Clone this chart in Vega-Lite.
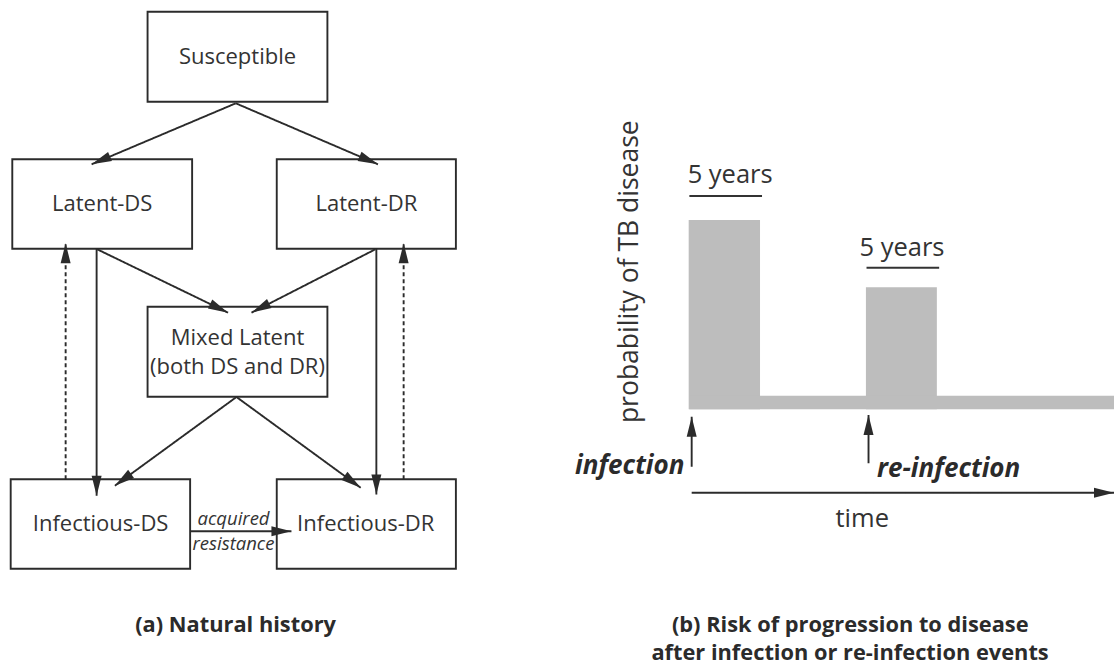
{
  "$schema": "https://vega.github.io/schema/vega-lite/v6.json",
  "width": 1115,
  "height": 667,
  "autosize": {"type": "fit", "contains": "padding"},
  "padding": 0,
  "background": "white",
  "config": {"view": {"stroke": null}},
  "datasets": {
    "boxes": [
      {"state": "Susceptible", "left": 147.7, "right": 327.7, "top": 11.7, "bottom": 101.7},
      {"state": "Latent-DS", "left": 12.3, "right": 192.3, "top": 159.3, "bottom": 248.7},
      {"state": "Latent-DR", "left": 277, "right": 456.3, "top": 159.3, "bottom": 248.7},
      {"state": "Mixed Latent", "left": 147.7, "right": 327.7, "top": 306.7, "bottom": 396.7},
      {"state": "Infectious-DS", "left": 10.7, "right": 190.3, "top": 479.3, "bottom": 568.7},
      {"state": "Infectious-DR", "left": 277, "right": 456.3, "top": 479.3, "bottom": 568.7}
    ],
    "risk": [
      {"period": "after infection", "left": 689.3, "right": 760.7, "top": 220, "bottom": 409.3},
      {"period": "after re-infection", "left": 866.7, "right": 937.7, "top": 287.3, "bottom": 409.3},
      {"period": "baseline", "left": 690, "right": 1115, "top": 395.7, "bottom": 409.3}
    ],
    "edges": [
      {"from": "Susceptible", "to": "Latent-DS", "kind": "progression", "x1": 236, "y1": 103.3, "x2": 91.7, "y2": 164.3, "hx": 100.9, "hy": 160.4, "dir": 247.1},
      {"from": "Susceptible", "to": "Latent-DR", "kind": "progression", "x1": 236, "y1": 103.3, "x2": 378.3, "y2": 164.3, "hx": 369.1, "hy": 160.4, "dir": 113.2},
      {"from": "Latent-DS", "to": "Mixed Latent", "kind": "progression", "x1": 97.3, "y1": 249.3, "x2": 228.3, "y2": 312.7, "hx": 219.3, "hy": 308.3, "dir": 115.8},
      {"from": "Latent-DR", "to": "Mixed Latent", "kind": "progression", "x1": 375.7, "y1": 249.3, "x2": 251.7, "y2": 312.7, "hx": 260.6, "hy": 308.1, "dir": 242.9},
      {"from": "Latent-DS", "to": "Infectious-DS", "kind": "progression", "x1": 96.7, "y1": 248.7, "x2": 96.7, "y2": 495.7, "hx": 96.7, "hy": 485.7, "dir": 180},
      {"from": "Latent-DR", "to": "Infectious-DR", "kind": "progression", "x1": 376.7, "y1": 248.7, "x2": 376.7, "y2": 494.5, "hx": 376.7, "hy": 484.5, "dir": 180},
      {"from": "Infectious-DS", "to": "Latent-DS", "kind": "reversion", "x1": 65.7, "y1": 479.3, "x2": 65.7, "y2": 243.3, "hx": 65.7, "hy": 253.3, "dir": 0},
      {"from": "Infectious-DR", "to": "Latent-DR", "kind": "reversion", "x1": 404, "y1": 479.3, "x2": 404, "y2": 243.3, "hx": 404, "hy": 253.3, "dir": 0},
      {"from": "Mixed Latent", "to": "Infectious-DS", "kind": "progression", "x1": 236.7, "y1": 397, "x2": 115, "y2": 485.7, "hx": 123.1, "hy": 479.8, "dir": 233.9},
      {"from": "Mixed Latent", "to": "Infectious-DR", "kind": "progression", "x1": 236.7, "y1": 397, "x2": 361, "y2": 487.7, "hx": 352.9, "hy": 481.8, "dir": 126.1},
      {"from": "Infectious-DS", "to": "Infectious-DR", "kind": "progression", "x1": 190.3, "y1": 531.3, "x2": 291.7, "y2": 531.3, "hx": 281.7, "hy": 531.3, "dir": 90},
      {"from": "infection", "to": "risk", "kind": "progression", "x1": 692.3, "y1": 466.7, "x2": 692.3, "y2": 416.7, "hx": 692.3, "hy": 426.7, "dir": 0},
      {"from": "re-infection", "to": "risk", "kind": "progression", "x1": 869.3, "y1": 463.3, "x2": 869.3, "y2": 415, "hx": 869.3, "hy": 425, "dir": 0},
      {"from": "time start", "to": "time end", "kind": "progression", "x1": 692.3, "y1": 492.7, "x2": 1115, "y2": 492.7, "hx": 1105, "hy": 492.7, "dir": 90}
    ],
    "spans": [
      {"label": "5 years", "x1": 690, "x2": 762.7, "y": 196},
      {"label": "5 years", "x1": 867.3, "x2": 940, "y": 267.7}
    ],
    "boxLabels": [
      {"text": "Susceptible", "x": 237.7, "y": 63.5},
      {"text": "Latent-DS", "x": 102.3, "y": 210.5},
      {"text": "Latent-DR", "x": 366.7, "y": 210.5},
      {"text": "Mixed Latent", "x": 237.7, "y": 345},
      {"text": "(both DS and DR)", "x": 237.7, "y": 374.3},
      {"text": "Infectious-DS", "x": 100.7, "y": 530.7},
      {"text": "Infectious-DR", "x": 366, "y": 530.7}
    ],
    "italicLabels": [
      {"text": "acquired", "x": 233.7, "y": 525},
      {"text": "resistance", "x": 233.7, "y": 549.5}
    ],
    "titles": [
      {"text": "(a) Natural history", "x": 235.8, "y": 631.7},
      {"text": "(b) Risk of progression to disease", "x": 851, "y": 631.7},
      {"text": "after infection or re-infection events", "x": 850.8, "y": 660}
    ],
    "plainB": [
      {"text": "5 years", "x": 730.8, "y": 183.3},
      {"text": "5 years", "x": 902.8, "y": 256},
      {"text": "time", "x": 863, "y": 527.3}
    ],
    "events": [
      {"text": "infection", "x": 630.3, "y": 474.3},
      {"text": "re-infection", "x": 949.5, "y": 477}
    ],
    "axisLabel": [
      {"text": "probability of TB disease", "x": 638.3, "y": 271.7}
    ]
  },
  "layer": [
    {
      "data": {"name": "boxes"},
      "mark": {"type": "rect", "fill": "white", "stroke": "#2b2b2b", "strokeWidth": 1.9},
      "encoding": {
        "x": {"field": "left", "type": "quantitative", "scale": {"domain": [0, 1115], "nice": false, "zero": false}, "axis": null},
        "x2": {"field": "right"},
        "y": {"field": "top", "type": "quantitative", "scale": {"domain": [0, 667], "nice": false, "zero": false, "reverse": true}, "axis": null},
        "y2": {"field": "bottom"}
      }
    },
    {
      "data": {"name": "risk"},
      "mark": {"type": "rect", "fill": "#bdbdbd", "strokeWidth": 0},
      "encoding": {
        "x": {"field": "left", "type": "quantitative", "scale": {"domain": [0, 1115], "nice": false, "zero": false}, "axis": null},
        "x2": {"field": "right"},
        "y": {"field": "top", "type": "quantitative", "scale": {"domain": [0, 667], "nice": false, "zero": false, "reverse": true}, "axis": null},
        "y2": {"field": "bottom"}
      }
    },
    {
      "data": {"name": "edges"},
      "mark": {"type": "rule", "color": "#2b2b2b", "strokeWidth": 1.9},
      "encoding": {
        "x": {"field": "x1", "type": "quantitative", "scale": {"domain": [0, 1115], "nice": false, "zero": false}, "axis": null},
        "x2": {"field": "x2"},
        "y": {"field": "y1", "type": "quantitative", "scale": {"domain": [0, 667], "nice": false, "zero": false, "reverse": true}, "axis": null},
        "y2": {"field": "y2"},
        "strokeDash": {"field": "kind", "type": "nominal", "scale": {"domain": ["progression", "reversion"], "range": [[1, 0], [4, 3]]}, "legend": null}
      }
    },
    {
      "data": {"name": "edges"},
      "mark": {"type": "point", "shape": "M0,-1L0.5,1L-0.5,1Z", "filled": true, "size": 400, "color": "#2b2b2b", "opacity": 1, "strokeWidth": 0},
      "encoding": {
        "x": {"field": "hx", "type": "quantitative", "scale": {"domain": [0, 1115], "nice": false, "zero": false}, "axis": null},
        "y": {"field": "hy", "type": "quantitative", "scale": {"domain": [0, 667], "nice": false, "zero": false, "reverse": true}, "axis": null},
        "angle": {"field": "dir", "type": "quantitative", "scale": null}
      }
    },
    {
      "data": {"name": "spans"},
      "mark": {"type": "rule", "color": "#333333", "strokeWidth": 2},
      "encoding": {
        "x": {"field": "x1", "type": "quantitative", "scale": {"domain": [0, 1115], "nice": false, "zero": false}, "axis": null},
        "x2": {"field": "x2"},
        "y": {"field": "y", "type": "quantitative", "scale": {"domain": [0, 667], "nice": false, "zero": false, "reverse": true}, "axis": null}
      }
    },
    {
      "data": {"name": "boxLabels"},
      "mark": {"type": "text", "font": "Open Sans", "fontSize": 22, "color": "#333333", "align": "center", "baseline": "alphabetic"},
      "encoding": {
        "x": {"field": "x", "type": "quantitative", "scale": {"domain": [0, 1115], "nice": false, "zero": false}, "axis": null},
        "y": {"field": "y", "type": "quantitative", "scale": {"domain": [0, 667], "nice": false, "zero": false, "reverse": true}, "axis": null},
        "text": {"field": "text"}
      }
    },
    {
      "data": {"name": "italicLabels"},
      "mark": {"type": "text", "font": "Open Sans", "fontSize": 18.5, "fontStyle": "italic", "color": "#333333", "align": "center", "baseline": "alphabetic"},
      "encoding": {
        "x": {"field": "x", "type": "quantitative", "scale": {"domain": [0, 1115], "nice": false, "zero": false}, "axis": null},
        "y": {"field": "y", "type": "quantitative", "scale": {"domain": [0, 667], "nice": false, "zero": false, "reverse": true}, "axis": null},
        "text": {"field": "text"}
      }
    },
    {
      "data": {"name": "titles"},
      "mark": {"type": "text", "font": "Open Sans", "fontSize": 21.8, "fontWeight": "bold", "color": "#2b2b2b", "align": "center", "baseline": "alphabetic"},
      "encoding": {
        "x": {"field": "x", "type": "quantitative", "scale": {"domain": [0, 1115], "nice": false, "zero": false}, "axis": null},
        "y": {"field": "y", "type": "quantitative", "scale": {"domain": [0, 667], "nice": false, "zero": false, "reverse": true}, "axis": null},
        "text": {"field": "text"}
      }
    },
    {
      "data": {"name": "plainB"},
      "mark": {"type": "text", "font": "Open Sans", "fontSize": 25.5, "color": "#333333", "align": "center", "baseline": "alphabetic"},
      "encoding": {
        "x": {"field": "x", "type": "quantitative", "scale": {"domain": [0, 1115], "nice": false, "zero": false}, "axis": null},
        "y": {"field": "y", "type": "quantitative", "scale": {"domain": [0, 667], "nice": false, "zero": false, "reverse": true}, "axis": null},
        "text": {"field": "text"}
      }
    },
    {
      "data": {"name": "events"},
      "mark": {"type": "text", "font": "Open Sans", "fontSize": 26, "fontStyle": "italic", "fontWeight": "bold", "color": "#2b2b2b", "align": "center", "baseline": "alphabetic"},
      "encoding": {
        "x": {"field": "x", "type": "quantitative", "scale": {"domain": [0, 1115], "nice": false, "zero": false}, "axis": null},
        "y": {"field": "y", "type": "quantitative", "scale": {"domain": [0, 667], "nice": false, "zero": false, "reverse": true}, "axis": null},
        "text": {"field": "text"}
      }
    },
    {
      "data": {"name": "axisLabel"},
      "mark": {"type": "text", "font": "Open Sans", "fontSize": 26.5, "color": "#333333", "align": "center", "baseline": "alphabetic", "angle": 270},
      "encoding": {
        "x": {"field": "x", "type": "quantitative", "scale": {"domain": [0, 1115], "nice": false, "zero": false}, "axis": null},
        "y": {"field": "y", "type": "quantitative", "scale": {"domain": [0, 667], "nice": false, "zero": false, "reverse": true}, "axis": null},
        "text": {"field": "text"}
      }
    }
  ]
}
